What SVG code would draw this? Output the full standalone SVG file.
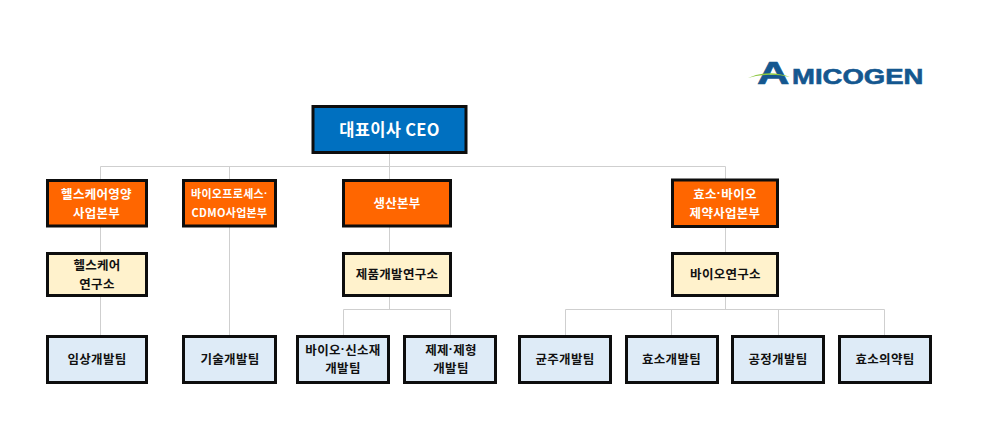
<svg xmlns="http://www.w3.org/2000/svg" width="983" height="424" viewBox="0 0 983 424">
<style>
.b{stroke:#0d0d0d;stroke-width:3}
.ceo{fill:#0070c0}.org{fill:#ff6600}.lab{fill:#fff2cc}.team{fill:#deebf7}
.w,.k{font-family:"Noto Sans CJK KR","Liberation Sans",sans-serif;font-weight:700;text-anchor:middle;dominant-baseline:central;font-size:12.5px;letter-spacing:.3px}
tspan.d{font-family:"Liberation Sans",sans-serif}
.w{fill:#fff}.k{fill:#111}
#connectors path{fill:none;stroke:#cfcfcf;stroke-width:1}
.logo{font-family:"Liberation Sans",sans-serif;font-weight:700;fill:#14578f;stroke:#14578f;stroke-width:.6;text-anchor:start}
</style>
<rect width="983" height="424" fill="#fff"/>
<g id="connectors">
<path d="M100.500 166.500H725.500M389.500 154V252M100.500 166.500V335M229.500 166.500V335M725.500 166.500V252"/>
<path d="M389.500 297V309M343.500 335V309.500H450.500V335"/>
<path d="M725.500 297V309M565.500 335V309.500H884.500V335M671.500 309.500V335M778.500 309.500V335"/>
</g>
<g id="logo">
<text class="logo" transform="translate(757 84) scale(1.45 1)" style="font-size:31px">A</text>
<text class="logo" transform="translate(792 84) scale(1.25 1)" style="font-size:22px">MICOGEN</text>
<path d="M748 78Q768 69 790 77Q768 72 748 78Z" fill="#8cc63f"/>
</g>
<g id="ceo"><rect class="b ceo" x="313" y="106.500" width="153" height="46"/><text class="w" x="389.500" y="129" style="font-size:16.500px">대표이사 CEO</text></g>
<g id="div-healthcare"><rect class="b org" x="47.500" y="180.500" width="99" height="45.500"/><text class="w" x="96.500" y="193">헬스케어영양</text><text class="w" x="96.500" y="212">사업본부</text></g>
<g id="div-bioprocess"><rect class="b org" x="183.500" y="180.500" width="92" height="45.500"/><text class="w" x="229.500" y="193" style="font-size:11px">바이오프로세스<tspan class="d">·</tspan></text><text class="w" x="229.500" y="212" style="font-size:11px">CDMO사업본부</text></g>
<g id="div-production"><rect class="b org" x="343.500" y="180.500" width="107" height="45.500"/><text class="w" x="397" y="202.500">생산본부</text></g>
<g id="div-enzyme"><rect class="b org" x="672.500" y="180" width="105" height="46.500"/><text class="w" x="725" y="193">효소<tspan class="d">·</tspan>바이오</text><text class="w" x="725" y="212">제약사업본부</text></g>
<g id="lab-healthcare"><rect class="b lab" x="47.500" y="253.500" width="99" height="42"/><text class="k" x="97" y="264">헬스케어</text><text class="k" x="97" y="283">연구소</text></g>
<g id="lab-product"><rect class="b lab" x="343.500" y="253.500" width="107" height="42"/><text class="k" x="397" y="273">제품개발연구소</text></g>
<g id="lab-bio"><rect class="b lab" x="672.500" y="253.500" width="105" height="42"/><text class="k" x="725.500" y="273">바이오연구소</text></g>
<g id="team-clinical"><rect class="b team" x="47.500" y="336.500" width="99" height="46"/><text class="k" x="97" y="358">임상개발팀</text></g>
<g id="team-tech"><rect class="b team" x="183.500" y="336.500" width="92" height="46"/><text class="k" x="230" y="358">기술개발팀</text></g>
<g id="team-biomaterial"><rect class="b team" x="297.500" y="336.500" width="91" height="46"/><text class="k" x="343" y="349">바이오<tspan class="d">·</tspan>신소재</text><text class="k" x="343" y="367">개발팀</text></g>
<g id="team-formulation"><rect class="b team" x="404.500" y="336.500" width="91" height="46"/><text class="k" x="451" y="349">제제<tspan class="d">·</tspan>제형</text><text class="k" x="451" y="367">개발팀</text></g>
<g id="team-strain"><rect class="b team" x="519.500" y="336.500" width="91" height="46"/><text class="k" x="565" y="358">균주개발팀</text></g>
<g id="team-enzyme"><rect class="b team" x="626.500" y="336.500" width="91" height="46"/><text class="k" x="671.500" y="358">효소개발팀</text></g>
<g id="team-process"><rect class="b team" x="732.500" y="336.500" width="91" height="46"/><text class="k" x="778" y="358">공정개발팀</text></g>
<g id="team-pharma"><rect class="b team" x="839.500" y="336.500" width="91" height="46"/><text class="k" x="885" y="358">효소의약팀</text></g>
</svg>
